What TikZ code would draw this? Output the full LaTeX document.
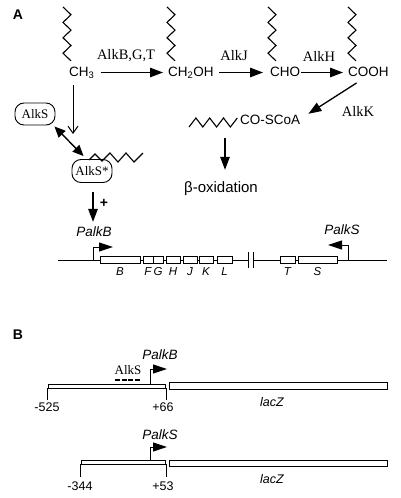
\documentclass[tikz,border=0pt]{standalone}
\usepackage{fontspec}
\setmainfont{Liberation Serif}
\setsansfont{Liberation Sans}
\usetikzlibrary{arrows.meta}
\tikzset{
  chem/.style={font=\sffamily\fontsize{13.5}{15}\selectfont,inner sep=0pt,text height=10pt,text depth=3pt,anchor=base west},
  enz/.style={font=\fontsize{14.5}{16}\selectfont,inner sep=0pt},
  react/.style={line width=1.3pt,-{Triangle[length=13pt,width=9.5pt]}},
  chain/.style={line width=1.1pt},
  prot/.style={draw,fill=white,rounded corners=9pt,line width=0.9pt,minimum width=40pt,minimum height=22pt,inner sep=0pt,font=\fontsize{13}{15}\selectfont},
  gene/.style={draw,fill=white,line width=0.8pt,minimum height=7pt,inner sep=0pt},
  glabel/.style={font=\sffamily\itshape\fontsize{11.5}{13}\selectfont,below=3.5pt,inner sep=0pt},
  ptext/.style={font=\sffamily\itshape\fontsize{13.5}{15}\selectfont,inner sep=0pt},
  prom/.style={line width=1pt,-{Triangle[length=14pt,width=9pt]}},
  dna/.style={line width=1pt},
  frag/.style={draw,line width=0.9pt,minimum height=4pt,inner sep=0pt},
  lac/.style={draw,line width=0.9pt,minimum height=6.5pt,inner sep=0pt},
  num/.style={font=\sffamily\fontsize{12.5}{14}\selectfont,inner sep=0pt},
  panel/.style={font=\sffamily\bfseries\fontsize{14}{16}\selectfont,inner sep=0pt}
}
\begin{document}
\begin{tikzpicture}[x=1pt,y=-1pt]
\useasboundingbox (0,0) rectangle (400,498);
% panel A: alkane oxidation
\node[panel] (labA) at (18,15) {A};
\draw[chain] (63,7) \foreach \i in {1,2,3} {-- ++(8,7.7) -- ++(-8,7.7)} -- ++(8,7.7);
\draw[chain] (167,7) \foreach \i in {1,2,3} {-- ++(8,7.7) -- ++(-8,7.7)} -- ++(8,7.7);
\draw[chain] (268,7) \foreach \i in {1,2,3} {-- ++(8,7.7) -- ++(-8,7.7)} -- ++(8,7.7);
\draw[chain] (348,7) \foreach \i in {1,2,3} {-- ++(8,7.7) -- ++(-8,7.7)} -- ++(8,7.7);
\node[chem] (ch3) at (69,76) {CH\textsubscript{3}};
\node[chem] (ch2oh) at (168,76) {CH\textsubscript{2}OH};
\node[chem] (cho) at (270,76) {CHO};
\node[chem] (cooh) at (348,76) {COOH};
\draw[react,shorten <=6pt,shorten >=5pt] (ch3) -- (ch2oh);
\draw[react,shorten <=5pt,shorten >=7pt] (ch2oh) -- (cho);
\draw[react,shorten <=1pt,shorten >=5pt] (cho) -- (cooh);
\node[enz] (bgt) at (126,56) {AlkB,G,T};
\node[enz] (alkj) at (234,56) {AlkJ};
\node[enz] (alkh) at (319,56) {AlkH};
\node[enz] (alkk) at (358,111) {AlkK};
\node[chem] (coa) at (240,124) {CO-SCoA};
\draw[chain] (189,127) \foreach \i in {1,2,3} {-- ++(6.9,-9) -- ++(6.9,9)} -- ++(6.9,-9);
\draw[react,shorten <=7pt] ([xshift=-6pt]cooh.south) -- ([xshift=8pt]coa.north east);
\node[font=\sffamily\fontsize{15}{17}\selectfont,inner sep=0pt] (beta) at (221,189) {β-oxidation};
\draw[react,shorten <=11pt,shorten >=12pt] ([xshift=-15pt]coa.south west) -- ([xshift=4pt]beta.north);
% regulation
\node[prot] (alks) at (35,114) {AlkS};
\node[prot,minimum height=23pt] (alkss) at (92,171) {AlkS*};
\draw[chain] (89,160) -- (95,154) -- (102,161) -- (110,153) -- (118,162) -- (126,153) -- (134,162) -- (143,153);
\coordinate (bind) at (73,134);
\draw[line width=1pt,-{Straight Barb[length=7pt,width=10pt]},shorten <=6pt] ([xshift=4pt]ch3.south west) -- (bind);
\draw[line width=1.4pt,{Triangle[length=11pt,width=9.5pt]}-{Triangle[length=11pt,width=9.5pt]}] ([xshift=-1pt,yshift=-1pt]alks.south east) -- ([xshift=12pt,yshift=3pt]alkss.north west);
\node[ptext] (pB) at (94,232) {PalkB};
\draw[react,shorten <=9pt,shorten >=5pt] ([xshift=1pt]alkss.south) -- ([xshift=-1pt]pB.north);
\node[panel] (plus) at (104,203) {+};
% gene map
\draw[dna] (58,260) -- (248,260);
\draw[dna] (253,260) -- (387,260);
\draw[dna] (248,252) -- (248,268);
\draw[dna] (253,252) -- (253,268);
\foreach \n/\a/\b in {B/100/140,F/143/153,G/153/163,H/166/180,J/183/197,K/199/213,L/217/232,T/280/295,S/298/337}
  {\node[gene,minimum width={(\b-\a)*1pt}] (g\n) at ({(\a+\b)/2},260) {};
   \node[glabel] (l\n) at (g\n.south) {\n};}
\coordinate (tssB) at (93,260);
\draw[prom] (tssB) |- ++(20,-13);
\node[ptext] (pS) at (342,230) {PalkS};
\coordinate (tssS) at (348,260);
\draw[prom] (tssS) |- ++(-20,-15);
% panel B: fusions
\node[panel] (labB) at (18,335) {B};
\node[ptext] (pB2) at (160,355) {PalkB};
\node[font=\fontsize{13}{15}\selectfont,inner sep=0pt] (site) at (128,370) {AlkS};
\draw[line width=1.6pt,dash pattern=on 5pt off 1.5pt] (115,380) -- (141,380);
\node[frag,minimum width=117pt] (f1) at (106.5,386) {};
\node[lac,minimum width=218pt] (z1) at (278,385.75) {};
\coordinate (tss1) at (150,384);
\draw[prom] (tss1) |- ++(17,-15);
\draw[dna] (f1.south west) -- ++(0,12);
\draw[dna] ([xshift=1pt]f1.south east) -- ++(0,12);
\node[num] (n525) at (47,407) {-525};
\node[num] (n66) at (163,407) {+66};
\node[num,font=\sffamily\itshape\fontsize{12.5}{14}\selectfont] (lz1) at (272,402) {lacZ};
\node[ptext] (pS2) at (160,435) {PalkS};
\node[frag,minimum width=84pt] (f2) at (123,462) {};
\node[lac,minimum width=218pt] (z2) at (278,463.5) {};
\coordinate (tss2) at (150,460);
\draw[prom] (tss2) |- ++(17,-13);
\draw[dna] (f2.south west) -- ++(0,13);
\draw[dna] ([xshift=1pt]f2.south east) -- ++(0,13);
\node[num] (n344) at (80,486) {-344};
\node[num] (n53) at (163,486) {+53};
\node[num,font=\sffamily\itshape\fontsize{12.5}{14}\selectfont] (lz2) at (272,479) {lacZ};
\end{tikzpicture}
\end{document}
